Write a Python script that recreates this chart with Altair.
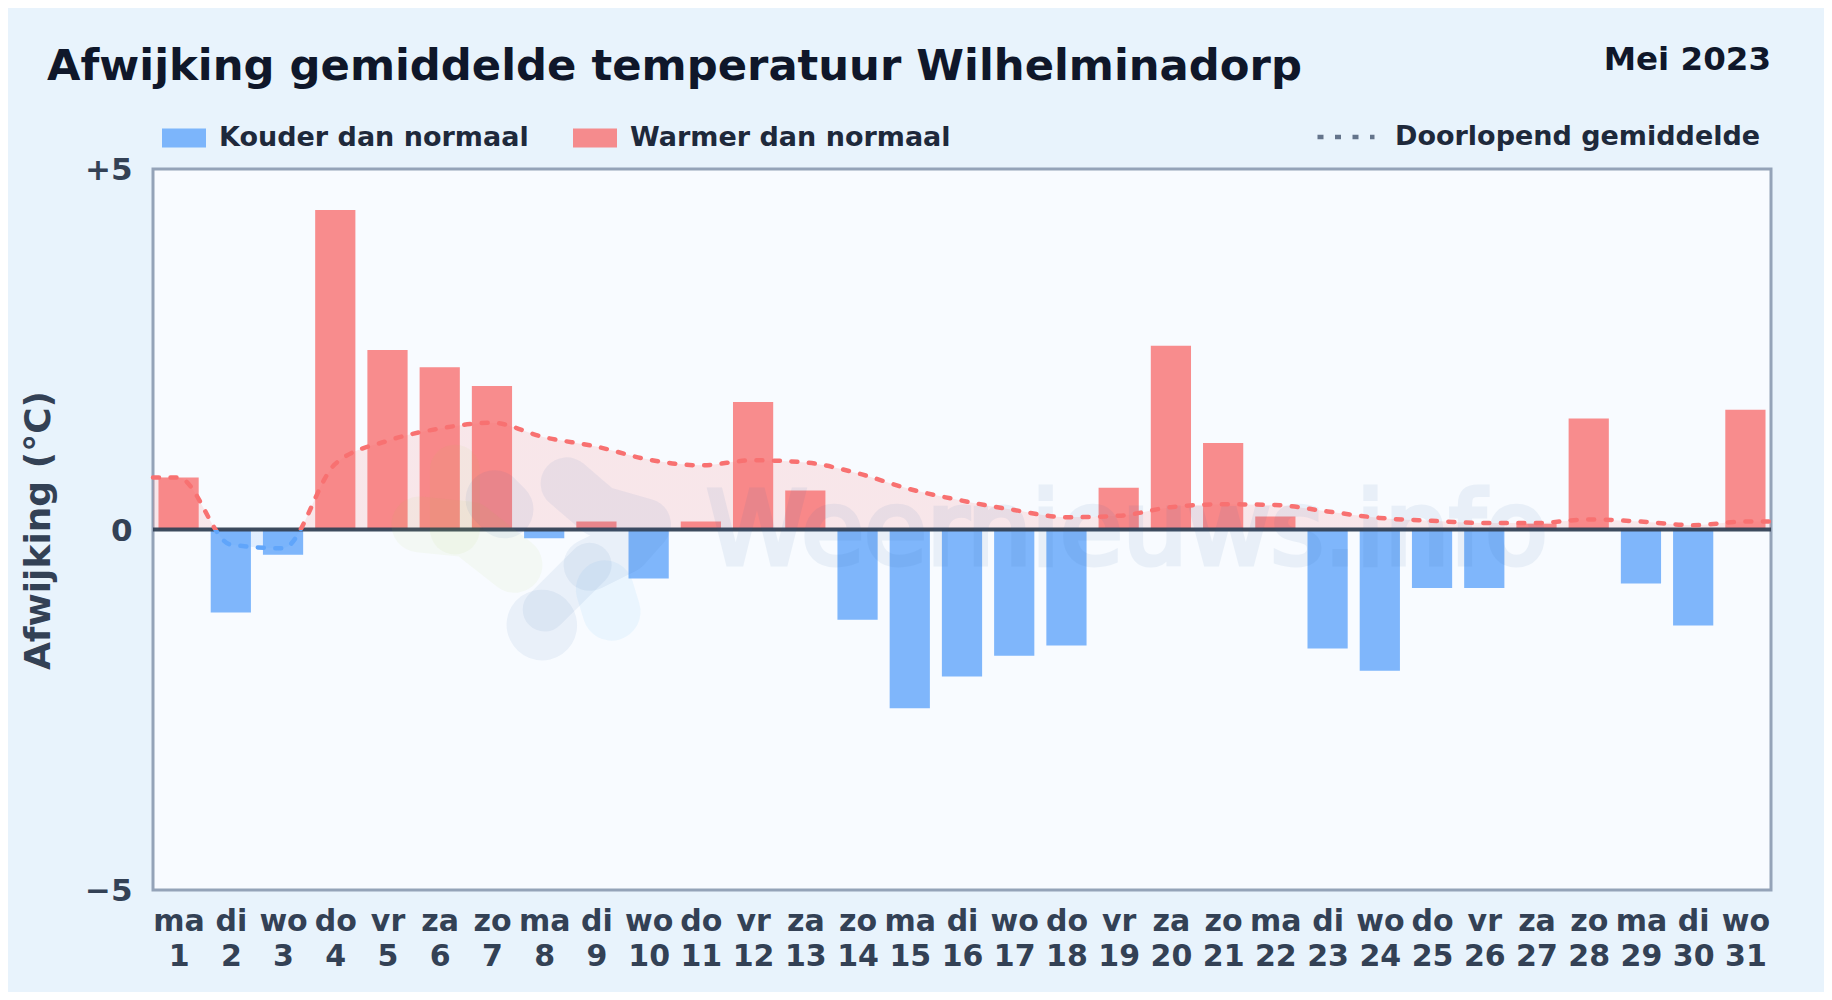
import altair as alt
import pandas as pd

WEEKDAYS = ["ma","di","wo","do","vr","za","zo","ma","di","wo","do","vr","za","zo","ma","di","wo","do","vr","za","zo","ma","di","wo","do","vr","za","zo","ma","di","wo"]
DAYS = list(range(1, 32))
ANOMALY = [0.72,-1.15,-0.35,4.43,2.49,2.25,1.99,-0.12,0.11,-0.68,0.11,1.77,0.54,-1.25,-2.48,-2.04,-1.75,-1.61,0.58,2.55,1.20,0.18,-1.65,-1.96,-0.81,-0.81,0.08,1.54,-0.75,-1.33,1.66]
# running mean, including both plot edges
RUN_DAYS = [0.51] + DAYS + [31.49]
RUN_MEAN = [0.72,0.72,-0.21,-0.26,0.91,1.23,1.40,1.48,1.28,1.15,0.97,0.89,0.96,0.93,0.78,0.56,0.40,0.27,0.17,0.19,0.31,0.35,0.34,0.25,0.16,0.12,0.09,0.09,0.14,0.11,0.06,0.11,0.11]

COLD, WARM = "Kouder dan normaal", "Warmer dan normaal"
RUN_NAME = "Doorlopend gemiddelde"
BLUE, RED = "#60a5fa", "#f87171"
INK, AXIS_INK = "#0f172a", "#334155"

# faint logo strokes (group, day position, deviation position)
LOGO_GROUP = ["g1","g1","g1","g2","g2","b1","b1","b1","b1","b1","b2","b2","b3","b3","b4","b4","l1","l1"]
LOGO_DAY = [5.61,6.57,7.43, 6.29,6.29, 8.43,9.06,9.93,9.54,8.87, 8.87,8.01, 7.95,7.96, 7.05,7.24, 9.16,9.29]
LOGO_VAL = [0.07,0.0,-0.49, 0.83,0.0, 0.64,0.25,0.07,-0.25,-0.49, -0.49,-1.11, -1.32,-1.33, 0.42,0.28, -0.83,-1.14]
LOGO_WIDTH = [56]*3 + [50]*2 + [52]*5 + [44]*2 + [70]*2 + [58]*2 + [58]*2

bars = pd.DataFrame({"day": DAYS, "value": ANOMALY})
bars["kind"] = [WARM if v >= 0 else COLD for v in ANOMALY]
run = pd.DataFrame({"day": RUN_DAYS, "value": RUN_MEAN, "series": RUN_NAME})
logo = pd.DataFrame({"g": LOGO_GROUP, "day": LOGO_DAY, "value": LOGO_VAL, "w": LOGO_WIDTH})
logo["order"] = range(len(logo))

W, H = 1618, 721
js_days = "[" + ",".join(f"'{d}'" for d in WEEKDAYS) + "]"
x_scale = alt.Scale(domain=[0.51, 31.49], nice=False, zero=False)
y_scale = alt.Scale(domain=[-5, 5], nice=False)

x_axis = alt.Axis(
    values=DAYS, title=None, domain=False, ticks=False, grid=False, labelAngle=0,
    labelExpr=f"[{js_days}[datum.value-1], ''+datum.value]",
    labelFontSize=30, labelFontWeight="bold", labelColor=AXIS_INK, labelLineHeight=35,
    labelPadding=16, labelOverlap=False, labelFlush=False, labelBound=False,
)
y_axis = alt.Axis(
    values=[-5, 0, 5], title="Afwijking (°C)", domain=False, ticks=False, grid=False,
    labelExpr="datum.value > 0 ? '+' + datum.value : datum.value < 0 ? '−' + abs(datum.value) : '0'",
    labelFontSize=31, labelFontWeight="bold", labelColor=AXIS_INK, labelPadding=21, labelOffset=1.5,
    titleFontSize=36, titleFontWeight="bold", titleColor=AXIS_INK, titleX=-115, titleY=361,
    titleBaseline="middle", titleAlign="center", titleAngle=270,
)

X = alt.X("day:Q", scale=x_scale, axis=x_axis)
Y = alt.Y("value:Q", scale=y_scale, axis=y_axis)

def grad(offset):
    return alt.Gradient(
        gradient="linear", x1=0, x2=0, y1=0, y2=1,
        stops=[alt.GradientStop(color=RED, offset=0), alt.GradientStop(color=RED, offset=offset),
               alt.GradientStop(color=BLUE, offset=offset), alt.GradientStop(color=BLUE, offset=1)],
    )

area = alt.Chart(run).mark_area(interpolate="monotone", fill=grad(0.851), opacity=0.15).encode(
    x=X, y=Y, y2=alt.datum(0))

bar = alt.Chart(bars).transform_calculate(
    x0="datum.day - 0.385", x1="datum.day + 0.385"
).mark_bar(opacity=0.8, cornerRadius=0).encode(
    x=alt.X("x0:Q", scale=x_scale, axis=x_axis),
    x2="x1:Q",
    y=Y,
    y2=alt.datum(0),
    color=alt.Color("kind:N", scale=alt.Scale(domain=[COLD, WARM], range=[BLUE, RED]), legend=alt.Legend(
        title=None, orient="none", legendX=9, legendY=-53, direction="horizontal", columns=2,
        symbolType="M-1,-0.432H1V0.432H-1Z", symbolSize=1936, symbolStrokeWidth=0,
        labelFontSize=27, labelFontWeight="bold", labelColor="#1e293b", labelOffset=13,
        columnPadding=44, labelLimit=400, padding=0,
    )),
)

zero = alt.Chart(pd.DataFrame({"value": [0]})).mark_rule(color=AXIS_INK, strokeWidth=4, opacity=0.95).encode(y=Y)

logo_layers = [
    alt.Chart(logo[logo.g == g]).mark_line(strokeCap="round", strokeJoin="round", opacity=o, color=c,
                                           strokeWidth=int(logo[logo.g == g].w.iloc[0])
    ).encode(x=X, y=Y, order="order:Q")
    for g, c, o in [("g1", "#a3c94a", 0.06), ("g2", "#a3c94a", 0.06), ("l1", "#38a3f0", 0.07),
                    ("b1", "#2563a8", 0.07), ("b2", "#2563a8", 0.07), ("b3", "#2563a8", 0.07), ("b4", "#2563a8", 0.07)]
]

wm = alt.Chart(pd.DataFrame({"day": [19.16], "value": [-0.485], "t": ["Weernieuws.info"]})).mark_text(
    fontSize=102, fontWeight="normal", color="#2563a8", stroke="#2563a8", strokeWidth=5, opacity=0.07,
    align="center", baseline="alphabetic",
).encode(x=X, y=Y, text="t:N")

line = alt.Chart(run).mark_line(interpolate="monotone", stroke=grad(0.851), strokeWidth=4.5, strokeCap="round").encode(
    x=X, y=Y,
    strokeDash=alt.StrokeDash("series:N", scale=alt.Scale(domain=[RUN_NAME], range=[[6, 11.5]]), legend=alt.Legend(
        title=None, orient="none", legendX=1162, legendY=-63, symbolType="stroke", symbolSize=3249,
        symbolStrokeColor="#64748b", symbolStrokeWidth=4.5, labelFontSize=27, labelFontWeight="bold",
        labelColor="#1e293b", labelOffset=18, labelLimit=420, padding=0,
    )),
)

month = alt.Chart(pd.DataFrame({"t": ["Mei 2023"]})).mark_text(
    fontSize=32.5, fontWeight="bold", color=INK, align="right", baseline="alphabetic",
).encode(x=alt.value(W), y=alt.value(-99), text="t:N")

chart = alt.layer(area, bar, zero, *logo_layers, wm, line, month).resolve_legend(strokeDash="independent").properties(
    width=W, height=H,
    padding={"left": 145, "top": 161, "right": 53, "bottom": 102},
    autosize="none",
    background="#e8f3fc",
    title=alt.TitleParams(
        "Afwijking gemiddelde temperatuur Wilhelminadorp", anchor="start", frame="group",
        fontSize=43.3, fontWeight="bold", color=INK, dx=-106, offset=0, dy=79, baseline="alphabetic",
    ),
).configure(
    font="DejaVu Sans",
    view=alt.ViewConfig(fill="#f8fbff", stroke="#94a3b8", strokeWidth=3),
)

chart.save("out.html", embed_options={"renderer": "svg", "actions": False})
